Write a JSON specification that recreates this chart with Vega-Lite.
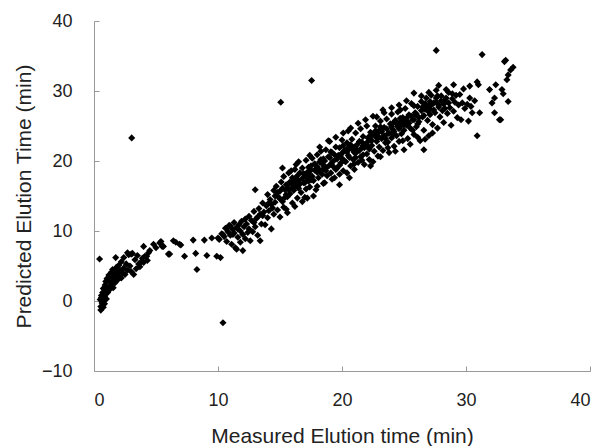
{
  "$schema": "https://vega.github.io/schema/vega-lite/v6.json",
  "width": 496,
  "height": 350,
  "autosize": {"type": "none"},
  "padding": {"left": 94, "top": 21, "right": 8, "bottom": 75},
  "background": "white",
  "config": {
    "view": {"stroke": null},
    "font": "Liberation Sans",
    "axis": {
      "grid": false,
      "domainColor": "#999999",
      "tickColor": "#999999",
      "tickSize": -5,
      "labelFontSize": 18,
      "labelColor": "#222222",
      "titleFontSize": 21,
      "titleFontWeight": "normal",
      "titleColor": "#222222",
      "labelFont": "Liberation Sans",
      "titleFont": "Liberation Sans"
    }
  },
  "data": {
    "values": [
      {"x":0.45,"y":6.0},{"x":0.55,"y":-1.3},{"x":0.55,"y":-0.8},{"x":0.5,"y":0.2},{"x":0.6,"y":0.8},{"x":0.65,"y":-0.3},{"x":0.6,"y":0.5},{"x":0.7,"y":1.2},{"x":0.75,"y":-0.9},{"x":0.8,"y":0.1},{"x":0.75,"y":1.8},{"x":0.85,"y":0.6},{"x":0.9,"y":2.3},{"x":0.9,"y":1.0},{"x":0.85,"y":-0.4},{"x":0.95,"y":2.8},{"x":1.0,"y":1.5},{"x":1.0,"y":0.3},{"x":1.05,"y":3.2},{"x":1.1,"y":2.0},{"x":1.1,"y":1.2},{"x":1.2,"y":3.7},{"x":1.3,"y":2.6},{"x":1.3,"y":1.7},{"x":1.35,"y":3.0},{"x":1.4,"y":4.1},{"x":1.4,"y":2.2},{"x":1.45,"y":3.5},{"x":1.5,"y":2.9},{"x":1.5,"y":4.5},{"x":1.55,"y":1.9},{"x":1.6,"y":3.8},{"x":1.6,"y":3.1},{"x":1.7,"y":4.2},{"x":1.7,"y":2.6},{"x":1.75,"y":6.2},{"x":1.8,"y":3.5},{"x":1.8,"y":4.8},{"x":1.9,"y":3.0},{"x":1.9,"y":4.0},{"x":2.0,"y":5.1},{"x":2.0,"y":3.6},{"x":2.1,"y":4.4},{"x":2.2,"y":3.3},{"x":2.2,"y":5.6},{"x":2.3,"y":4.0},{"x":2.4,"y":6.2},{"x":2.4,"y":4.7},{"x":2.5,"y":3.8},{"x":2.6,"y":5.3},{"x":2.7,"y":6.9},{"x":2.7,"y":4.4},{"x":2.8,"y":6.6},{"x":2.9,"y":5.0},{"x":3.0,"y":6.7},{"x":3.0,"y":4.2},{"x":3.04,"y":23.3},{"x":3.1,"y":6.8},{"x":3.2,"y":3.8},{"x":3.3,"y":5.9},{"x":3.4,"y":4.6},{"x":3.5,"y":6.5},{"x":3.6,"y":5.3},{"x":3.7,"y":4.9},{"x":3.8,"y":5.6},{"x":3.9,"y":6.1},{"x":4.0,"y":7.8},{"x":4.0,"y":5.5},{"x":4.1,"y":6.4},{"x":4.25,"y":6.4},{"x":4.3,"y":5.8},{"x":4.4,"y":6.9},{"x":4.5,"y":7.2},{"x":4.8,"y":8.1},{"x":5.0,"y":7.6},{"x":5.3,"y":8.3},{"x":5.4,"y":8.5},{"x":5.5,"y":7.8},{"x":5.6,"y":7.8},{"x":6.0,"y":6.7},{"x":6.1,"y":6.7},{"x":6.4,"y":8.6},{"x":6.6,"y":8.4},{"x":6.9,"y":8.1},{"x":7.0,"y":8.0},{"x":7.3,"y":6.4},{"x":8.0,"y":8.7},{"x":8.2,"y":6.8},{"x":8.3,"y":4.5},{"x":8.9,"y":8.7},{"x":9.1,"y":6.5},{"x":9.5,"y":9.0},{"x":9.9,"y":6.4},{"x":10.0,"y":9.0},{"x":10.2,"y":6.2},{"x":10.4,"y":-3.1},
      {"x":10.1,"y":8.8},{"x":10.3,"y":9.6},{"x":10.5,"y":9.2},{"x":10.6,"y":10.4},{"x":10.7,"y":8.5},{"x":10.8,"y":9.9},{"x":10.9,"y":10.8},{"x":11.0,"y":9.4},{"x":11.0,"y":10.7},{"x":11.1,"y":8.1},{"x":11.2,"y":10.2},{"x":11.3,"y":9.7},{"x":11.3,"y":11.2},{"x":11.4,"y":7.6},{"x":11.5,"y":7.4},{"x":11.5,"y":10.5},{"x":11.6,"y":9.1},{"x":11.7,"y":10.9},{"x":11.8,"y":8.4},{"x":11.8,"y":10.0},{"x":11.9,"y":11.4},{"x":12.0,"y":9.5},{"x":12.0,"y":7.2},{"x":12.1,"y":10.6},{"x":12.2,"y":8.9},{"x":12.3,"y":11.0},{"x":12.4,"y":9.8},{"x":12.5,"y":12.1},{"x":12.5,"y":10.3},{"x":12.6,"y":8.6},{"x":12.7,"y":11.5},{"x":12.8,"y":9.9},{"x":12.9,"y":12.8},{"x":13.0,"y":15.9},{"x":13.0,"y":10.6},{"x":13.1,"y":11.8},{"x":13.2,"y":9.4},{"x":13.3,"y":13.2},{"x":13.4,"y":8.6},{"x":13.4,"y":12.4},{"x":13.5,"y":11.0},{"x":13.6,"y":14.0},{"x":13.7,"y":12.7},{"x":13.8,"y":10.9},{"x":13.9,"y":13.6},{"x":14.0,"y":15.2},{"x":14.0,"y":11.9},{"x":14.1,"y":12.9},{"x":14.2,"y":14.5},{"x":14.3,"y":10.3},{"x":14.4,"y":13.3},{"x":14.5,"y":15.8},{"x":14.5,"y":12.4},{"x":14.6,"y":14.1},{"x":14.7,"y":16.4},{"x":14.8,"y":13.0},{"x":14.9,"y":14.8},{"x":15.0,"y":12.0},{"x":15.0,"y":15.7},{"x":15.06,"y":28.4},{"x":15.1,"y":17.0},{"x":15.2,"y":14.2},{"x":15.3,"y":17.8},{"x":15.3,"y":13.4},{"x":15.4,"y":15.9},{"x":15.5,"y":13.1},{"x":15.5,"y":16.6},{"x":15.6,"y":14.9},{"x":15.7,"y":18.3},{"x":15.8,"y":15.3},{"x":15.9,"y":16.9},{"x":16.0,"y":14.0},{"x":16.0,"y":17.6},{"x":16.1,"y":15.8},{"x":16.2,"y":18.8},{"x":16.3,"y":19.5},{"x":16.3,"y":16.4},{"x":16.4,"y":14.7},{"x":16.5,"y":17.2},{"x":16.6,"y":18.3},{"x":16.7,"y":15.5},{"x":16.8,"y":19.0},{"x":16.9,"y":16.9},{"x":17.0,"y":18.0},{"x":17.0,"y":14.8},{"x":17.1,"y":20.1},{"x":17.2,"y":14.7},{"x":17.2,"y":17.5},{"x":17.3,"y":19.1},{"x":17.4,"y":16.3},{"x":17.5,"y":18.7},{"x":17.55,"y":31.5},{"x":17.6,"y":20.4},{"x":17.7,"y":17.2},{"x":17.8,"y":19.6},{"x":17.9,"y":15.9},{"x":18.0,"y":18.4},{"x":18.0,"y":20.9},{"x":18.1,"y":17.6},{"x":18.2,"y":19.9},{"x":18.3,"y":21.4},{"x":18.4,"y":18.1},{"x":18.5,"y":16.8},{"x":18.5,"y":20.3},{"x":18.6,"y":19.2},{"x":18.7,"y":21.6},{"x":18.8,"y":17.9},{"x":18.9,"y":20.6},{"x":19.0,"y":22.8},{"x":19.0,"y":19.4},{"x":19.1,"y":18.3},{"x":19.2,"y":21.2},{"x":19.3,"y":20.0},{"x":19.4,"y":17.6},{"x":19.5,"y":22.0},{"x":19.6,"y":19.0},{"x":19.7,"y":20.8},{"x":19.8,"y":16.6},{"x":19.8,"y":21.9},{"x":19.9,"y":19.7},{"x":20.0,"y":23.0},{"x":20.0,"y":20.4},{"x":20.1,"y":18.6},{"x":20.2,"y":21.5},{"x":20.3,"y":19.9},{"x":20.4,"y":22.6},{"x":20.5,"y":24.3},{"x":20.5,"y":20.8},{"x":20.6,"y":17.6},{"x":20.6,"y":21.8},{"x":20.7,"y":19.3},{"x":20.8,"y":23.1},{"x":20.9,"y":20.2},{"x":21.0,"y":22.0},{"x":21.0,"y":18.8},{"x":21.1,"y":24.0},{"x":21.2,"y":21.3},{"x":21.3,"y":19.8},{"x":21.4,"y":22.8},{"x":21.5,"y":20.6},{"x":21.5,"y":24.6},{"x":21.6,"y":21.9},{"x":21.7,"y":23.5},{"x":21.8,"y":19.5},{"x":21.9,"y":22.4},{"x":22.0,"y":25.0},{"x":22.0,"y":21.0},{"x":22.1,"y":23.3},{"x":22.2,"y":20.2},{"x":22.3,"y":19.3},{"x":22.3,"y":24.1},{"x":22.4,"y":22.2},{"x":22.5,"y":26.4},{"x":22.5,"y":23.7},{"x":22.6,"y":21.4},{"x":22.7,"y":25.0},{"x":22.8,"y":22.8},{"x":22.9,"y":20.7},{"x":23.0,"y":24.4},{"x":23.0,"y":22.0},{"x":23.1,"y":25.7},{"x":23.2,"y":23.2},{"x":23.3,"y":27.3},{"x":23.3,"y":21.5},{"x":23.4,"y":24.8},{"x":23.5,"y":22.6},{"x":23.6,"y":26.0},{"x":23.7,"y":23.9},{"x":23.8,"y":21.2},{"x":23.9,"y":25.3},{"x":24.0,"y":23.3},{"x":24.0,"y":26.7},{"x":24.1,"y":24.5},{"x":24.2,"y":22.1},{"x":24.3,"y":25.8},{"x":24.4,"y":23.6},{"x":24.5,"y":27.0},{"x":24.5,"y":24.9},{"x":24.6,"y":22.8},{"x":24.7,"y":27.3},{"x":24.7,"y":25.5},{"x":24.8,"y":23.9},{"x":24.9,"y":26.2},{"x":25.0,"y":24.4},{"x":25.0,"y":21.6},{"x":25.1,"y":27.5},{"x":25.2,"y":25.1},{"x":25.3,"y":23.2},{"x":25.4,"y":26.6},{"x":25.5,"y":24.7},{"x":25.6,"y":28.2},{"x":25.7,"y":25.9},{"x":25.8,"y":29.7},{"x":25.8,"y":23.8},{"x":25.9,"y":26.9},{"x":26.0,"y":24.9},{"x":26.1,"y":27.8},{"x":26.2,"y":25.6},{"x":26.3,"y":22.9},{"x":26.4,"y":28.5},{"x":26.5,"y":26.3},{"x":26.6,"y":21.6},{"x":26.6,"y":24.4},{"x":26.7,"y":27.4},{"x":26.8,"y":29.0},{"x":26.9,"y":25.8},{"x":27.0,"y":27.9},{"x":27.0,"y":23.6},{"x":27.1,"y":26.6},{"x":27.2,"y":29.4},{"x":27.3,"y":25.2},{"x":27.4,"y":28.3},{"x":27.5,"y":26.9},{"x":27.6,"y":35.8},{"x":27.6,"y":30.1},{"x":27.7,"y":24.7},{"x":27.8,"y":30.8},{"x":27.8,"y":28.0},{"x":27.9,"y":26.3},{"x":28.0,"y":29.3},{"x":28.1,"y":27.2},{"x":28.2,"y":25.5},{"x":28.3,"y":28.7},{"x":28.4,"y":30.2},{"x":28.5,"y":26.8},{"x":28.6,"y":29.8},{"x":28.7,"y":27.6},{"x":28.8,"y":25.1},{"x":28.9,"y":28.9},{"x":29.0,"y":30.9},{"x":29.0,"y":27.1},{"x":29.2,"y":29.4},{"x":29.3,"y":26.2},{"x":29.5,"y":29.5},{"x":29.6,"y":25.9},{"x":29.7,"y":28.3},{"x":29.9,"y":27.5},{"x":30.1,"y":28.1},{"x":30.2,"y":25.7},{"x":30.3,"y":30.7},{"x":30.3,"y":29.0},{"x":30.5,"y":26.9},{"x":30.7,"y":28.6},{"x":30.9,"y":31.3},{"x":30.9,"y":23.6},{"x":31.0,"y":30.9},{"x":31.1,"y":26.9},{"x":31.3,"y":35.2},{"x":31.9,"y":30.2},{"x":32.1,"y":28.3},{"x":32.3,"y":29.0},{"x":32.3,"y":26.9},{"x":32.4,"y":30.9},{"x":32.7,"y":25.9},{"x":32.8,"y":25.9},{"x":32.9,"y":30.2},{"x":33.0,"y":29.6},{"x":33.1,"y":34.2},{"x":33.2,"y":34.4},{"x":33.3,"y":31.6},{"x":33.4,"y":32.3},{"x":33.4,"y":28.5},{"x":33.6,"y":33.0},{"x":33.8,"y":33.4},
      {"x":14.1,"y":14.0},{"x":14.3,"y":13.8},{"x":14.6,"y":15.0},{"x":14.8,"y":15.5},{"x":15.0,"y":14.6},{"x":15.2,"y":16.1},{"x":15.4,"y":14.8},{"x":15.6,"y":16.5},{"x":15.8,"y":17.0},{"x":16.0,"y":16.2},{"x":16.2,"y":17.4},{"x":16.4,"y":17.9},{"x":16.6,"y":16.7},{"x":16.8,"y":17.5},{"x":17.0,"y":16.9},{"x":17.2,"y":18.4},{"x":17.4,"y":18.0},{"x":17.6,"y":17.8},{"x":17.8,"y":18.7},{"x":18.0,"y":19.2},{"x":18.2,"y":18.5},{"x":18.4,"y":19.6},{"x":18.6,"y":20.0},{"x":18.8,"y":19.1},{"x":19.0,"y":20.5},{"x":19.2,"y":19.8},{"x":19.4,"y":20.9},{"x":19.6,"y":20.3},{"x":19.8,"y":19.4},{"x":20.0,"y":21.1},{"x":20.2,"y":20.0},{"x":20.4,"y":21.3},{"x":20.6,"y":20.5},{"x":20.8,"y":21.7},{"x":21.0,"y":21.2},{"x":21.2,"y":22.3},{"x":21.4,"y":21.5},{"x":21.6,"y":22.7},{"x":21.8,"y":21.9},{"x":22.0,"y":22.6},{"x":22.2,"y":23.5},{"x":22.4,"y":22.9},{"x":22.6,"y":23.8},{"x":22.8,"y":23.3},{"x":23.0,"y":23.4},{"x":23.2,"y":24.2},{"x":23.4,"y":23.6},{"x":23.6,"y":24.6},{"x":23.8,"y":24.0},{"x":24.0,"y":24.9},{"x":24.2,"y":24.2},{"x":24.4,"y":25.3},{"x":24.6,"y":24.6},{"x":24.8,"y":25.7},{"x":25.0,"y":25.2},{"x":25.2,"y":26.1},{"x":25.4,"y":25.4},{"x":25.6,"y":26.4},{"x":25.8,"y":25.9},{"x":26.0,"y":26.7},{"x":26.2,"y":26.2},{"x":26.4,"y":27.2},{"x":26.6,"y":26.5},{"x":26.8,"y":27.6},{"x":27.0,"y":27.0},{"x":27.2,"y":28.0},{"x":27.4,"y":27.3},{"x":27.6,"y":28.4},{"x":27.8,"y":27.7},{"x":28.0,"y":28.6},{"x":28.2,"y":28.1},{"x":28.4,"y":29.0},{"x":16.1,"y":16.9},{"x":17.3,"y":17.1},{"x":18.3,"y":20.2},{"x":19.1,"y":21.3},{"x":20.1,"y":22.2},{"x":21.1,"y":20.5},{"x":22.1,"y":22.1},{"x":23.1,"y":24.9},{"x":24.1,"y":23.8},{"x":25.1,"y":25.8},{"x":26.1,"y":25.3},{"x":27.1,"y":28.5},{"x":19.5,"y":18.8},{"x":20.7,"y":22.3},{"x":21.7,"y":20.9},{"x":22.7,"y":24.3},{"x":23.7,"y":22.7},{"x":24.7,"y":26.1},{"x":25.7,"y":24.4},{"x":26.7,"y":28.2},{"x":15.5,"y":15.2},{"x":16.5,"y":16.1},{"x":17.5,"y":19.3},{"x":18.5,"y":18.9},{"x":13.2,"y":12.0},{"x":13.6,"y":12.2},{"x":12.9,"y":11.2},{"x":12.2,"y":11.7},{"x":11.6,"y":10.3},{"x":11.2,"y":9.5},{"x":10.8,"y":10.5},{"x":10.4,"y":9.5},
      {"x":15.2,"y":19.0},{"x":15.6,"y":12.6},{"x":15.9,"y":18.6},{"x":16.2,"y":13.5},{"x":16.5,"y":19.9},{"x":16.8,"y":14.2},{"x":17.1,"y":16.0},{"x":17.4,"y":20.8},{"x":17.7,"y":15.0},{"x":18.0,"y":16.4},{"x":18.2,"y":22.0},{"x":18.6,"y":16.9},{"x":18.9,"y":22.9},{"x":19.2,"y":17.4},{"x":19.5,"y":23.4},{"x":19.8,"y":18.1},{"x":20.1,"y":24.0},{"x":20.4,"y":18.3},{"x":20.7,"y":24.7},{"x":21.0,"y":19.6},{"x":21.3,"y":25.4},{"x":21.6,"y":20.1},{"x":21.9,"y":25.9},{"x":22.2,"y":21.7},{"x":22.5,"y":19.9},{"x":22.8,"y":26.3},{"x":23.1,"y":20.6},{"x":23.4,"y":26.9},{"x":23.7,"y":21.9},{"x":24.0,"y":27.6},{"x":24.3,"y":21.4},{"x":24.6,"y":28.0},{"x":24.9,"y":22.9},{"x":25.2,"y":28.6},{"x":25.5,"y":22.4},{"x":25.8,"y":27.9},{"x":26.1,"y":23.4},{"x":26.4,"y":29.3},{"x":26.7,"y":23.1},{"x":27.0,"y":29.8},{"x":27.3,"y":24.0},{"x":27.6,"y":29.0},
      {"x":15.7,"y":15.9},{"x":16.3,"y":17.0},{"x":16.9,"y":18.2},{"x":17.5,"y":17.3},{"x":18.1,"y":18.9},{"x":18.7,"y":18.6},{"x":19.3,"y":19.2},{"x":19.9,"y":20.9},{"x":20.5,"y":21.9},{"x":21.1,"y":21.8},{"x":21.7,"y":22.2},{"x":22.3,"y":23.0},{"x":22.9,"y":24.0},{"x":23.5,"y":23.2},{"x":24.1,"y":25.4},{"x":24.7,"y":24.9},{"x":25.3,"y":25.6},{"x":25.9,"y":26.6},{"x":26.5,"y":27.7},{"x":27.1,"y":27.4},{"x":27.7,"y":29.3},{"x":28.3,"y":27.5},{"x":28.9,"y":29.6},{"x":29.4,"y":28.0},{"x":29.8,"y":30.3},{"x":30.4,"y":27.8},{"x":29.1,"y":28.4},{"x":28.6,"y":28.3}
    ]
  },
  "mark": {"type": "point", "shape": "diamond", "filled": true, "color": "#000000", "opacity": 1, "size": 50},
  "encoding": {
    "x": {
      "field": "x", "type": "quantitative",
      "scale": {"domain": [0, 40], "nice": false, "zero": false},
      "axis": {"values": [0, 10, 20, 30, 40], "title": "Measured Elution time (min)", "labelPadding": 25, "titlePadding": 16}
    },
    "y": {
      "field": "y", "type": "quantitative",
      "scale": {"domain": [-10, 40], "nice": false, "zero": false},
      "axis": {"values": [-10, 0, 10, 20, 30, 40], "title": "Predicted Elution Time (min)", "labelPadding": 27, "titlePadding": 7}
    }
  }
}
